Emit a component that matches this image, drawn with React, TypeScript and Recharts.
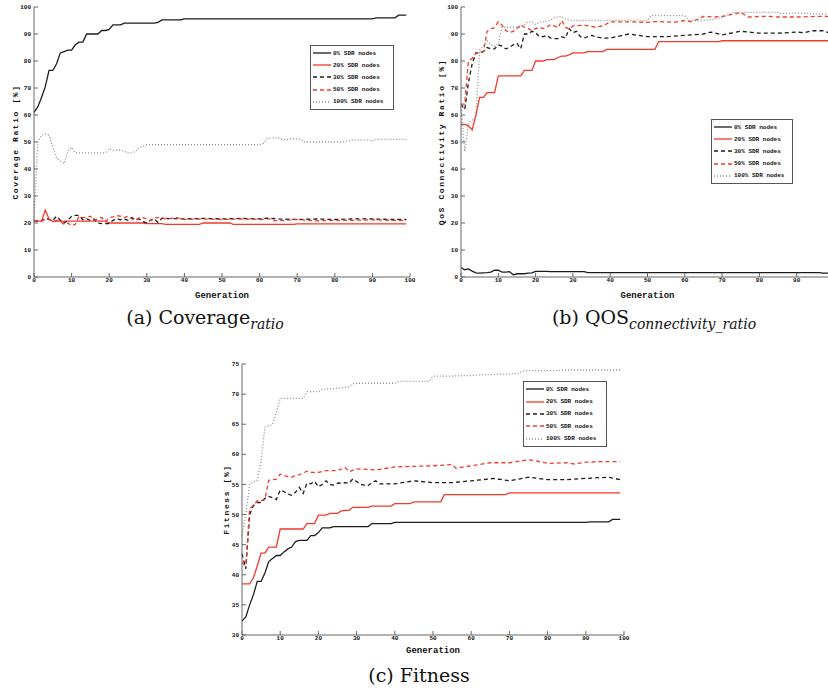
import { LineChart, Line, XAxis, YAxis } from 'recharts';

type Pt = [number, number];

// generation ticks shared by the panels
const generationTicks = [0, 10, 20, 30, 40, 50, 60, 70, 80, 90, 100];
// panel (b) is cut at the right edge, so its last label is not shown
const generationTicksCut = [0, 10, 20, 30, 40, 50, 60, 70, 80, 90];
const percentTicks = [0, 10, 20, 30, 40, 50, 60, 70, 80, 90, 100];
const fitnessTicks = [30, 35, 40, 45, 50, 55, 60, 65, 70, 75];

const seriesNames = ['0% SDR nodes', '20% SDR nodes', '30% SDR nodes', '50% SDR nodes', '100% SDR nodes'];

// (a) coverage ratio [%]
const covSdr0: Pt[] = [[0, 61], [1, 63], [2, 66.5], [3, 70.5], [4, 76.5], [5, 76.5], [6, 79], [7, 83], [8, 83.5], [9, 84], [10, 84], [11, 86], [12, 87], [13, 87], [14, 90], [17, 90], [18, 91.3], [19, 91.3], [20, 91.7], [21, 93.4], [23, 93.4], [24, 94], [32, 94], [33, 94.3], [34, 95.2], [39, 95.2], [40, 95.6], [90, 95.6], [91, 96], [96, 96], [97, 97], [99, 97]];
const covSdr20: Pt[] = [[0, 20.7], [2, 20.7], [3, 24.8], [4, 21.5], [5, 20.5], [6, 20.7], [19, 20.7], [20, 20], [29, 20], [30, 19.8], [34, 19.8], [35, 19.5], [44, 19.5], [45, 20], [52, 20], [53, 19.5], [69, 19.5], [70, 19.7], [99, 19.7]];
const covSdr30: Pt[] = [[0, 20.7], [2, 20.7], [3, 21.8], [4, 21.3], [5, 21], [6, 22.5], [7, 21], [8, 20], [9, 21], [10, 22.5], [11, 22.8], [12, 22.8], [13, 21.2], [14, 21.5], [15, 21], [16, 21.5], [17, 20], [18, 19.8], [20, 19.8], [21, 21], [22, 21.5], [23, 21.2], [24, 21.5], [25, 21], [26, 22], [27, 21.2], [28, 21.5], [29, 20.5], [30, 20], [31, 21], [32, 21.5], [33, 20.2], [34, 21.7], [40, 21.5], [45, 21.7], [50, 21.5], [55, 21.7], [60, 21.5], [62, 21.8], [65, 21.5], [70, 21.3], [75, 21.5], [80, 21.3], [85, 21.5], [90, 21.5], [95, 21.3], [99, 21.3]];
const covSdr50: Pt[] = [[0, 20.7], [2, 20.7], [3, 21.5], [5, 21], [6, 21], [7, 20.5], [8, 19.5], [9, 20], [10, 19], [11, 19.5], [12, 22.5], [13, 22], [14, 22], [15, 22.5], [16, 21], [17, 21.5], [18, 22], [19, 20.5], [20, 22], [21, 22.3], [22, 22.8], [23, 22.5], [24, 22], [25, 22.5], [26, 21.5], [27, 21], [28, 22], [29, 22], [30, 21.5], [31, 21], [32, 22], [34, 22], [35, 21.5], [38, 22], [40, 21.3], [45, 21.5], [50, 21.3], [55, 21.5], [60, 21.3], [63, 21.5], [64, 20.8], [67, 21], [70, 21.3], [75, 20.8], [80, 21], [85, 21], [90, 21.2], [95, 21], [99, 21]];
const covSdr100: Pt[] = [[0, 21], [1, 50], [2, 52.5], [3, 53], [4, 52.5], [5, 48], [6, 44], [7, 43], [8, 42], [9, 46.5], [10, 48], [11, 46], [19, 46], [20, 47.5], [21, 47], [23, 47], [24, 46.5], [25, 46], [26, 46], [27, 46.5], [28, 48], [29, 48.3], [30, 49], [60, 49], [61, 49.5], [62, 51.3], [63, 51.5], [65, 51.5], [66, 51], [67, 50.7], [68, 51.2], [70, 51.2], [71, 51], [72, 50], [82, 50], [83, 50.3], [85, 50.8], [88, 50.8], [90, 50.5], [91, 51], [99, 51]];

// (b) QoS connectivity ratio [%]
const qosSdr0: Pt[] = [[0, 3.5], [1, 2.7], [2, 3], [3, 2.2], [4, 1.5], [5, 1.4], [6, 1.5], [7, 1.6], [8, 1.8], [9, 2.5], [10, 2.5], [11, 1.8], [12, 1.8], [13, 2], [14, 0.8], [15, 1.2], [17, 1.2], [18, 1.4], [19, 1.5], [20, 2.1], [23, 2.1], [24, 2], [33, 2], [34, 1.6], [96, 1.6], [97, 1.4], [99, 1.4]];
const qosSdr20: Pt[] = [[0, 56.5], [1, 56.5], [2, 56], [3, 54.5], [4, 60], [5, 66.5], [6, 66.5], [7, 68.3], [9, 68.3], [10, 74.5], [16, 74.5], [17, 76.5], [19, 76.5], [20, 80], [22, 80], [23, 80.5], [25, 80.5], [26, 81.3], [27, 81.8], [28, 81.8], [29, 82.3], [30, 83], [33, 83], [34, 83.5], [38, 83.5], [39, 84.3], [52, 84.3], [53, 87.2], [69, 87.2], [70, 87.5], [99, 87.5]];
const qosSdr30: Pt[] = [[0, 64], [1, 62], [2, 72], [3, 79], [4, 83], [5, 83], [6, 83.5], [7, 85], [8, 84.5], [9, 84.5], [10, 86], [11, 85.5], [12, 84.5], [13, 85], [14, 86], [15, 86.5], [16, 84.5], [17, 90], [18, 90], [19, 91], [20, 90.5], [21, 89], [22, 89], [23, 89.5], [24, 88.5], [25, 88.3], [26, 88.3], [27, 89], [28, 88.5], [29, 92], [30, 90.5], [31, 91], [32, 89], [33, 88.5], [35, 89.5], [36, 89], [38, 88.5], [40, 88.5], [45, 90], [50, 89], [55, 89], [60, 89.5], [65, 90], [67, 90.7], [70, 89.7], [75, 91], [80, 90.3], [85, 90.3], [90, 90.7], [92, 90.5], [94, 91.2], [97, 91.2], [99, 90.3]];
const qosSdr50: Pt[] = [[0, 64], [1, 64], [2, 80], [3, 81], [4, 83], [5, 83.3], [6, 83.5], [7, 91], [8, 92], [9, 92.3], [10, 94.5], [11, 93.3], [12, 91.3], [13, 90.5], [14, 91], [15, 92], [16, 93.5], [17, 92.5], [18, 92], [19, 91.3], [20, 92], [21, 92.5], [22, 92], [23, 92.5], [24, 93.5], [25, 93], [26, 92.3], [27, 95], [28, 92.5], [29, 91.8], [30, 93], [33, 93.3], [35, 92.8], [36, 92.5], [38, 93], [40, 94.5], [45, 94.5], [50, 94.3], [52, 94.6], [55, 94.5], [57, 94.3], [60, 95], [62, 94.5], [65, 96.5], [68, 96.3], [70, 96.5], [73, 97.3], [75, 98], [77, 96.3], [80, 96.5], [83, 96.5], [85, 96.3], [90, 96.3], [95, 96.5], [99, 96.5]];
const qosSdr100: Pt[] = [[0, 63], [1, 46.5], [2, 57], [3, 58], [4, 59], [5, 84], [6, 85.5], [7, 87.5], [8, 86], [9, 85.5], [10, 86.5], [11, 92.5], [16, 92.5], [17, 93.5], [18, 94.5], [19, 94.5], [20, 93.5], [21, 94.5], [22, 94.5], [24, 95], [25, 96], [27, 96.5], [28, 95.5], [30, 95], [50, 95], [51, 96.8], [60, 96.8], [61, 95], [65, 95], [68, 95.5], [70, 96.2], [73, 98], [85, 98], [86, 97.5], [90, 97.8], [95, 97.5], [99, 97.3]];

// (c) fitness [%]
const fitSdr0: Pt[] = [[0, 32.3], [1, 33], [2, 35], [3, 36.7], [4, 38.9], [5, 38.9], [6, 40.3], [7, 42.2], [8, 42.7], [9, 43.2], [10, 43.2], [11, 43.8], [12, 44.3], [13, 44.6], [14, 45.5], [15, 45.7], [17, 45.7], [18, 46.5], [19, 46.5], [20, 47], [21, 47.8], [23, 47.8], [24, 48], [33, 48], [34, 48.5], [39, 48.5], [40, 48.7], [90, 48.7], [91, 48.8], [96, 48.8], [97, 49.2], [99, 49.2]];
const fitSdr20: Pt[] = [[0, 38.5], [2, 38.5], [3, 39.5], [4, 41.5], [5, 43.6], [6, 43.6], [7, 44.6], [9, 44.6], [10, 47.6], [16, 47.6], [17, 48.5], [19, 48.5], [20, 49.9], [22, 49.9], [23, 50.2], [25, 50.2], [26, 50.6], [27, 50.7], [28, 50.7], [29, 51.2], [33, 51.2], [34, 51.4], [39, 51.4], [40, 51.8], [44, 51.8], [45, 52.1], [52, 52.1], [53, 53.3], [69, 53.3], [70, 53.6], [99, 53.6]];
const fitSdr30: Pt[] = [[0, 43.5], [1, 41], [2, 50], [3, 51.5], [4, 52], [5, 52], [6, 52.7], [7, 53], [8, 52.8], [9, 52.5], [10, 54.1], [11, 53.8], [12, 53.4], [13, 53.2], [14, 53.7], [15, 54.5], [16, 53.5], [17, 55.2], [18, 55.1], [19, 55.5], [20, 54.6], [21, 55], [22, 55.6], [23, 55], [24, 54.9], [25, 55.2], [27, 55.3], [28, 55.2], [29, 55.9], [30, 55.5], [31, 55], [33, 54.8], [34, 55.3], [35, 55.6], [36, 55.1], [38, 55.1], [40, 55.1], [45, 55.6], [50, 55.3], [55, 55.3], [60, 55.6], [66, 56], [70, 55.6], [75, 56.2], [80, 55.8], [85, 55.8], [90, 56], [96, 56.2], [99, 55.8]];
const fitSdr50: Pt[] = [[0, 42], [1, 41.5], [2, 51], [3, 51.5], [4, 52.3], [5, 52.3], [6, 52.5], [7, 55.7], [8, 55.8], [9, 55.9], [10, 56.7], [11, 56.5], [12, 56.3], [13, 56.2], [14, 56.5], [15, 56.6], [16, 56.9], [17, 57.2], [18, 57], [20, 57], [22, 57.3], [25, 57.3], [27, 57.8], [28, 57.1], [30, 57.6], [35, 57.4], [40, 57.9], [45, 58], [50, 58.1], [55, 58.3], [56, 57.7], [60, 58.1], [65, 58.6], [70, 58.6], [75, 59.1], [77, 58.9], [80, 58.5], [85, 58.6], [87, 58.4], [90, 58.7], [95, 58.8], [99, 58.8]];
const fitSdr100: Pt[] = [[0, 46.5], [1, 50], [2, 55], [3, 55.5], [4, 55.7], [5, 59], [6, 64.5], [7, 64.7], [8, 65], [9, 67], [10, 69.3], [16, 69.3], [17, 70.4], [20, 70.4], [21, 70.8], [26, 71], [28, 71.2], [29, 71.7], [30, 71.8], [40, 71.8], [41, 72.1], [49, 72.1], [50, 73], [55, 73], [60, 73.1], [62, 73.2], [68, 73.3], [72, 73.4], [74, 73.9], [83, 73.9], [84, 74], [99, 74]];

const RED = '#f23a2b';
const lineStyles = [
  { stroke: '#1c1c1c', dash: undefined as string | undefined },
  { stroke: RED, dash: undefined as string | undefined },
  { stroke: '#1c1c1c', dash: '4 3' },
  { stroke: RED, dash: '4 3' },
  { stroke: '#8c8c8c', dash: '1 2' },
];

const MONO = '"Liberation Mono", "DejaVu Sans Mono", monospace';
const tickFont = { fontSize: 6, fontFamily: MONO, fontWeight: 700, fill: '#111' };
const labelFont = { fontSize: 8, fontFamily: MONO, fontWeight: 700, fill: '#111' };
const FRAME = '#666';

const toRows = (pts: Pt[]) => pts.map(([g, v]) => ({ g, v }));

type PanelProps = {
  left: number; top: number; width: number; height: number;
  yWidth: number; mTop: number; mRight: number; xHeight: number;
  xTicks: number[];
  yDomain: [number, number]; yTicks: number[]; yLabel: string; yLabelDx: number;
  series: Pt[][];
  legend: { left: number; top: number; width: number; height: number };
};

function LegendBox({ left, top, width, height }: PanelProps['legend']) {
  return (
    <div style={{ position: 'absolute', left, top, width, height, boxSizing: 'border-box', border: '1px solid #555', background: '#fff', padding: '1px 2px' }}>
      {seriesNames.map((name, i) => (
        <div key={name} style={{ display: 'flex', alignItems: 'center', height: (height - 4) / 5 }}>
          <svg width={18} height={4} style={{ flex: 'none' }}>
            <line x1={0} y1={2} x2={18} y2={2} stroke={lineStyles[i].stroke} strokeWidth={1.3} strokeDasharray={lineStyles[i].dash} />
          </svg>
          <span style={{ marginLeft: 2, fontFamily: MONO, fontWeight: 700, fontSize: 6, color: '#111', whiteSpace: 'nowrap' }}>{name}</span>
        </div>
      ))}
    </div>
  );
}

function Panel(p: PanelProps) {
  return (
    <div style={{ position: 'absolute', left: p.left, top: p.top, width: p.width, height: p.height }}>
      <LineChart width={p.width} height={p.height} margin={{ top: p.mTop, right: p.mRight, left: 0, bottom: 0 }}>
        <XAxis xAxisId="b" dataKey="g" type="number" domain={[0, 100]} ticks={p.xTicks} interval={0}
          height={p.xHeight} tick={tickFont} tickSize={-4} tickMargin={5}
          axisLine={{ stroke: FRAME }} tickLine={{ stroke: FRAME }}
          label={{ value: 'Generation', position: 'insideBottom', offset: 2, style: { ...labelFont, fontSize: 9 } }} />
        <XAxis xAxisId="t" orientation="top" type="number" domain={[0, 100]} ticks={generationTicks} interval={0}
          height={0} tick={false} tickSize={-4} axisLine={{ stroke: FRAME }} tickLine={{ stroke: FRAME }} />
        <YAxis yAxisId="l" type="number" domain={p.yDomain} ticks={p.yTicks} interval={0} width={p.yWidth}
          tick={tickFont} tickSize={-4} tickMargin={7}
          axisLine={{ stroke: FRAME }} tickLine={{ stroke: FRAME }}
          label={{ value: p.yLabel, angle: -90, position: 'center', dx: p.yLabelDx, style: { ...labelFont, letterSpacing: 1.6 } }} />
        <YAxis yAxisId="r" orientation="right" type="number" domain={p.yDomain} ticks={p.yTicks} interval={0} width={0}
          tick={false} tickSize={-4} axisLine={{ stroke: FRAME }} tickLine={{ stroke: FRAME }} />
        {p.series.map((pts, i) => (
          <Line key={i} xAxisId="b" yAxisId="l" data={toRows(pts)} dataKey="v" type="linear" dot={false}
            stroke={lineStyles[i].stroke} strokeWidth={1.3} strokeDasharray={lineStyles[i].dash}
            isAnimationActive={false} />
        ))}
      </LineChart>
      <LegendBox {...p.legend} />
    </div>
  );
}

const captionStyle = {
  position: 'absolute' as const,
  fontFamily: '"DejaVu Serif", "Liberation Serif", serif',
  fontSize: 19,
  color: '#111',
  textAlign: 'center' as const,
  whiteSpace: 'nowrap' as const,
};
const subStyle = { fontStyle: 'italic' as const, fontSize: 14 };

export default function App() {
  return (
    <div style={{ position: 'absolute', left: 0, top: 0, width: 828, height: 696, overflow: 'hidden', background: '#fff' }}>
      <Panel left={0} top={0} width={420} height={300} yWidth={34} mTop={7} mRight={10} xHeight={23}
        xTicks={generationTicks}
        yDomain={[0, 100]} yTicks={percentTicks} yLabel="Coverage Ratio [%]" yLabelDx={-2}
        series={[covSdr0, covSdr20, covSdr30, covSdr50, covSdr100]}
        legend={{ left: 310, top: 45, width: 84, height: 65 }} />
      <Panel left={410} top={0} width={430} height={300} yWidth={51} mTop={7} mRight={6} xHeight={23}
        xTicks={generationTicksCut}
        yDomain={[0, 100]} yTicks={percentTicks} yLabel="QoS Connectivity Ratio [%]" yLabelDx={6}
        series={[qosSdr0, qosSdr20, qosSdr30, qosSdr50, qosSdr100]}
        legend={{ left: 301, top: 119, width: 82, height: 65 }} />
      <Panel left={200} top={355} width={430} height={300} yWidth={42} mTop={9} mRight={6} xHeight={20}
        xTicks={generationTicks}
        yDomain={[30, 75]} yTicks={fitnessTicks} yLabel="Fitness [%]" yLabelDx={5}
        series={[fitSdr0, fitSdr20, fitSdr30, fitSdr50, fitSdr100]}
        legend={{ left: 323, top: 26, width: 84, height: 66 }} />
      <div style={{ ...captionStyle, left: 0, width: 410, top: 306 }}>
        (a) Coverage<sub style={subStyle}>ratio</sub>
      </div>
      <div style={{ ...captionStyle, left: 449, width: 410, top: 306 }}>
        (b) QOS<sub style={subStyle}>connectivity_ratio</sub>
      </div>
      <div style={{ ...captionStyle, left: 214, width: 410, top: 664 }}>
        (c) Fitness
      </div>
    </div>
  );
}
